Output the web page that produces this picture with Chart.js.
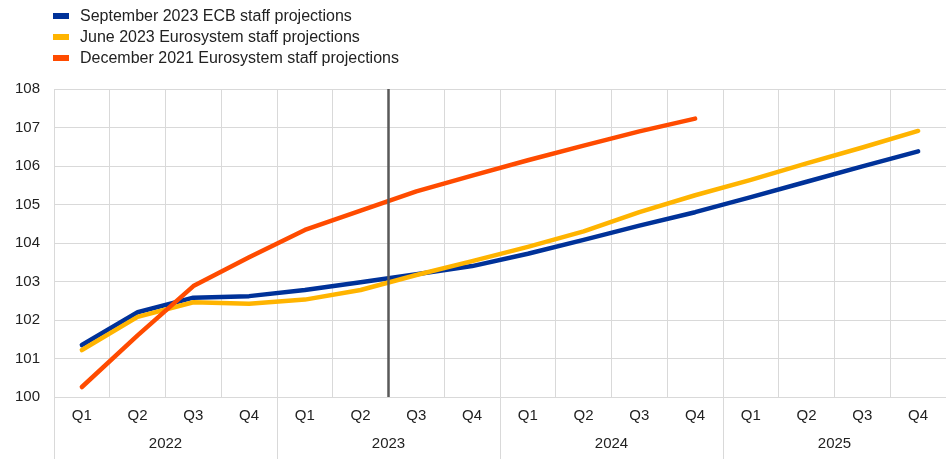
<!DOCTYPE html>
<html lang="en">
<head>
    <meta charset="UTF-8">
    <title>Staff projections comparison</title>
    <script src="https://cdn.jsdelivr.net/npm/chart.js"></script>
    <style>
        body { margin: 0; background: #fff; font-family: "Liberation Sans", Arial, sans-serif; }
        #wrap { position: relative; width: 946px; height: 459px; }
        #legend { position: absolute; left: 53px; top: 5px; font-size: 16px; color: #222; }
        .item { position: relative; height: 21px; line-height: 21px; padding-left: 27px; white-space: nowrap; }
        .item span { position: absolute; left: 0; top: 8px; width: 16px; height: 6px; }
    </style>
</head>
<body>
    <div id="wrap">
        <canvas id="chart" width="946" height="459"></canvas>
        <div id="legend"></div>
    </div>

    <script>
        const quarters = ["Q1", "Q2", "Q3", "Q4", "Q1", "Q2", "Q3", "Q4",
                          "Q1", "Q2", "Q3", "Q4", "Q1", "Q2", "Q3", "Q4"];
        const years = ["2022", "2023", "2024", "2025"];

        const seriesNames = [
            "September 2023 ECB staff projections",
            "June 2023 Eurosystem staff projections",
            "December 2021 Eurosystem staff projections"
        ];
        const seriesColors = ["#003299", "#FFB400", "#FF4B00"];

        const sep2023 = [101.35, 102.2, 102.58, 102.62, 102.78, 102.98, 103.19, 103.4,
                         103.72, 104.08, 104.45, 104.8, 105.19, 105.59, 105.99, 106.38];
        const jun2023 = [101.22, 102.08, 102.46, 102.42, 102.53, 102.78, 103.17, 103.53,
                         103.9, 104.3, 104.8, 105.24, 105.64, 106.07, 106.48, 106.91];
        const dec2021 = [100.26, 101.6, 102.88, 103.63, 104.34, 104.84, 105.34, 105.75,
                         106.15, 106.53, 106.9, 107.23, null, null, null, null];

        // cut-off marker between Q2 and Q3 2023 (index position on the quarter axis)
        const cutoffPos = 5.5;

        // HTML legend, one row per series
        const legend = document.getElementById("legend");
        seriesNames.forEach((name, i) => {
            const row = document.createElement("div");
            row.className = "item";
            row.innerHTML = `<span style="background:${seriesColors[i]}"></span>${name}`;
            legend.appendChild(row);
        });

        const lineStyle = {
            borderWidth: 4.5,
            pointRadius: 0,
            tension: 0,
            fill: false,
            borderCapStyle: "round",
            borderJoinStyle: "round"
        };

        const axisFont = { family: "'Liberation Sans', Arial", size: 15 };

        const ctx = document.getElementById("chart").getContext("2d");
        const chart = new Chart(ctx, {
            type: "line",
            data: {
                labels: quarters,
                datasets: [
                    { label: seriesNames[0], data: sep2023, borderColor: seriesColors[0], order: 3, ...lineStyle },
                    { label: seriesNames[1], data: jun2023, borderColor: seriesColors[1], order: 2, ...lineStyle },
                    { label: seriesNames[2], data: dec2021, borderColor: seriesColors[2], order: 1, ...lineStyle },
                    {
                        label: "cutoff",
                        data: [{ x: cutoffPos, y: 100 }, { x: cutoffPos, y: 108 }],
                        xAxisID: "xl",
                        borderColor: "#595959",
                        borderWidth: 2.5,
                        pointRadius: 0,
                        order: 0
                    }
                ]
            },
            options: {
                responsive: false,
                animation: false,
                layout: { padding: { top: 89, right: 0, left: 0, bottom: 0 } },
                plugins: {
                    legend: { display: false },
                    tooltip: { enabled: false }
                },
                scales: {
                    x: {
                        type: "category",
                        offset: true,
                        grid: {
                            offset: true,
                            color: "#d9d9d9",
                            lineWidth: 1,
                            drawTicks: true,
                            tickLength: 62,
                            tickColor: (c) => (c.index % 4 === 0 ? "#d9d9d9" : "rgba(0,0,0,0)")
                        },
                        border: { color: "#d9d9d9" },
                        ticks: {
                            autoSkip: false,
                            maxRotation: 0,
                            padding: -52,
                            color: "#222",
                            font: axisFont
                        },
                        afterFit: (s) => { s.height = 30; }
                    },
                    x2: {
                        type: "category",
                        labels: years,
                        offset: true,
                        weight: 1,
                        position: "bottom",
                        grid: { display: false },
                        border: { display: false },
                        ticks: {
                            padding: 0,
                            color: "#222",
                            font: axisFont
                        },
                        afterFit: (s) => { s.height = 32; }
                    },
                    xl: {
                        type: "linear",
                        display: false,
                        min: -0.5,
                        max: quarters.length - 0.5
                    },
                    y: {
                        min: 100,
                        max: 108,
                        grid: { color: "#d9d9d9", lineWidth: 1, drawTicks: false },
                        border: { color: "#d9d9d9" },
                        ticks: {
                            stepSize: 1,
                            padding: 14,
                            color: "#222",
                            font: axisFont
                        },
                        afterFit: (s) => { s.width = 54; }
                    }
                }
            }
        });
    </script>
</body>
</html>
